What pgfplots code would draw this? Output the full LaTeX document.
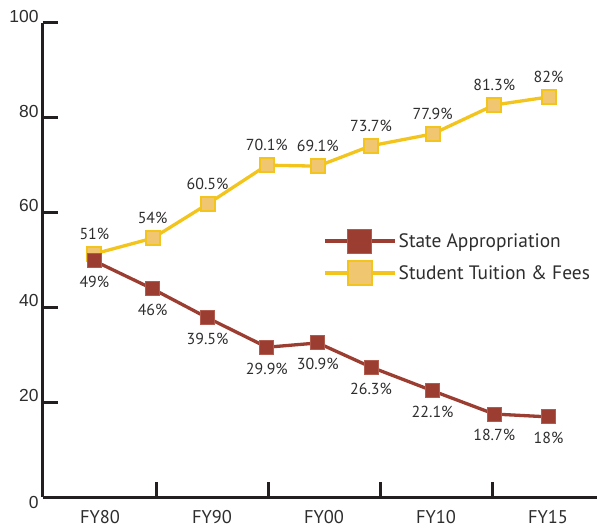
\documentclass[border=0pt]{standalone}
\usepackage{fontspec}
\setmainfont{PT Sans}
\newfontfamily\arialfont{Liberation Sans}
\usepackage{pgfplots}
\usepackage{pgfplotstable}
\pgfplotsset{compat=1.18}

\definecolor{appred}{RGB}{155,61,48}
\definecolor{appredlt}{RGB}{178,92,80}
\definecolor{tuityel}{RGB}{242,196,28}
\definecolor{tuitfill}{RGB}{240,199,112}
\definecolor{axisdark}{RGB}{35,31,32}
\definecolor{labeltext}{RGB}{45,45,45}

% x: category position (FY80 = 0, FY90 = 2, ...)
\pgfplotstableread{
x     state stlab tuition tulab
-0.10 49.8  49    51.3    51
0.94  43.9  46    54.6    54
1.92  37.8  39.5  61.8    60.5
2.98  31.6  29.9  70.0    70.1
3.89  32.5  30.9  69.8    69.1
4.84  27.4  26.3  74.1    73.7
5.94  22.4  22.1  76.6    77.9
7.04  17.5  18.7  82.7    81.3
8.01  16.9  18    84.4    82
}\sharetable

\begin{document}
\begin{tikzpicture}
\begin{axis}[
  at={(0,0)}, anchor=south west,
  scale only axis,
  width=554bp, height=474bp,
  xmin=-1.018, xmax=8.875,
  ymin=0, ymax=100,
  clip=false,
  axis x line=bottom, axis y line=left,
  axis line style={-, line width=3bp, color=axisdark},
  tick align=inside,
  major tick length=15bp,
  every tick/.style={line width=3bp, color=axisdark},
  xtick={1,3,5,7}, xticklabels={},
  extra x ticks={0,2,4,6,8},
  extra x tick labels={FY80,FY90,FY00,FY10,FY15},
  extra x tick style={major tick length=0pt,
    xticklabel style={font=\fontsize{18.5}{22}\selectfont, text=labeltext, anchor=north, yshift=-9.5bp}},
  ytick={20,40,60,80,100},
  yticklabel style={font=\arialfont\fontsize{17.5}{20}\selectfont, text=labeltext, anchor=south east, yshift=-3bp, xshift=-1bp},
  extra y ticks={0},
  extra y tick style={major tick length=0pt,
    yticklabel style={anchor=east, yshift=-2bp}},
  /pgf/number format/assume math mode=true,
  legend style={draw=none, fill=none, at={(0.5,0.57)}, anchor=north west,
    font=\fontsize{19.5}{23}\selectfont, text=labeltext,
    row sep=8bp, nodes={inner sep=2bp}},
  legend cell align=left,
  reverse legend,
  legend image code/.code={
    \draw[line width=3.5bp] (0bp,0bp) -- (70bp,0bp);
    \draw[mark size=12bp] plot coordinates {(35bp,0bp)};
  },
]
\addplot[tuityel, line width=3.3bp, mark=square*,
  mark size=7bp, mark options={fill=tuitfill, draw=tuityel, line width=2bp},
  point meta=explicit symbolic,
  nodes near coords={\pgfplotspointmeta\%},
  every node near coord/.style={anchor=south, yshift=10bp, text=labeltext,
    font=\fontsize{16}{19}\selectfont}]
  table[x=x, y=tuition, meta=tulab] {\sharetable};
\addlegendentry{Student Tuition \& Fees}
\addplot[appred, line width=3.3bp, mark=square*,
  mark size=7bp, mark options={fill=appred, draw=appredlt, line width=1bp},
  point meta=explicit symbolic,
  nodes near coords={\pgfplotspointmeta\%},
  every node near coord/.style={anchor=north, yshift=-11.7bp, text=labeltext,
    font=\fontsize{16}{19}\selectfont}]
  table[x=x, y=state, meta=stlab] {\sharetable};
\addlegendentry{State Appropriation}
\end{axis}
\pgfresetboundingbox
\path (-43bp,-32bp) rectangle (554bp,497bp);
\end{tikzpicture}
\end{document}
